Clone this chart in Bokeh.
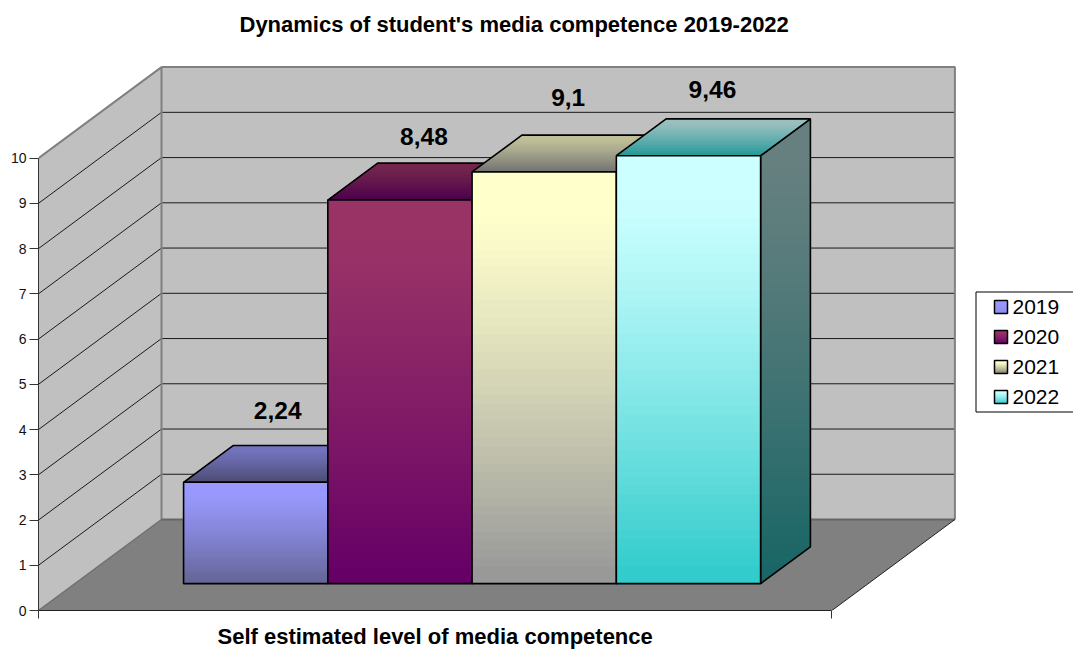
from bokeh.embed import file_html
from bokeh.models import ColumnDataSource, FixedTicker, Range1d, Title
from bokeh.plotting import figure
from bokeh.resources import INLINE

# Chart content
title_text = "Dynamics of student's media competence 2019-2022"
category_label = "Self estimated level of media competence"
years = ["2019", "2020", "2021", "2022"]
values = [2.24, 8.48, 9.1, 9.46]
value_ticks = [0, 1, 2, 3, 4, 5, 6, 7, 8, 9, 10]

# Face colours: light end and dark end of each bar's vertical gradient
light_colors = [(0x99, 0x99, 0xFF), (0x99, 0x33, 0x66), (0xFF, 0xFF, 0xCC), (0xCC, 0xFF, 0xFF)]
dark_colors = [(0x66, 0x66, 0x99), (0x66, 0x00, 0x66), (0x99, 0x99, 0x99), (0x33, 0xCC, 0xCC)]
swatch_dark_colors = [(0x8C, 0x8C, 0xEE), (0x66, 0x00, 0x66), (0x80, 0x80, 0x70), (0x33, 0xCC, 0xCC)]
top_shade, side_shade = 0.75, 0.5

# Page geometry in pixels
WIDTH, HEIGHT = 1073, 652
FRAME_LEFT, FRAME_TOP, FRAME_BOTTOM = 38, 44, 610
CATEGORY_PX, UNIT_PX = 793.4, 45.24
DEPTH_X_PX, DEPTH_Y_PX = 123.0, 91.0

# Oblique projection: depth 0 is the front of the floor, depth 1 the back wall
DX = DEPTH_X_PX / CATEGORY_PX
DY = DEPTH_Y_PX / UNIT_PX
BAR_DEPTH = (0.295, 0.70)
BAR_W = 1 / 5.5
GAP = 0.75 * BAR_W + 0.6 / CATEGORY_PX


def project(pos, val, depth):
    return pos + depth * DX, val + depth * DY


def px_x(px):
    return (px - FRAME_LEFT) / CATEGORY_PX


def px_y(py):
    return (FRAME_BOTTOM - py) / UNIT_PX


def shade(color, k):
    return tuple(c * k for c in color)


def to_hex(color):
    return "#%02x%02x%02x" % tuple(int(round(c)) for c in color)


def ease(f):
    """Gradient ramp: holds briefly at both ends and starts gently."""
    t = min(max((f - 0.08) / 0.88, 0.0), 1.0)
    return t ** 1.2


def clip_below(xs, ys, level):
    """Part of a polygon lying at or below a horizontal level."""
    out_x, out_y = [], []
    for i in range(len(xs)):
        x0, y0, x1, y1 = xs[i], ys[i], xs[(i + 1) % len(xs)], ys[(i + 1) % len(xs)]
        if y0 <= level:
            out_x.append(x0)
            out_y.append(y0)
        if (y0 <= level) != (y1 <= level):
            t = (level - y0) / (y1 - y0)
            out_x.append(x0 + t * (x1 - x0))
            out_y.append(level)
    return out_x, out_y


def gradient(p, xs, ys, c_top, c_bottom, bands=48):
    """Paint a polygon with a banded vertical gradient, darkest band last."""
    hi, lo = max(ys), min(ys)
    bx, by, colors = [], [], []
    for b in range(bands):
        f = b / bands
        cx, cy = clip_below(xs, ys, hi - f * (hi - lo))
        bx.append(cx)
        by.append(cy)
        k = ease(f)
        colors.append(to_hex(tuple(a + k * (d - a) for a, d in zip(c_top, c_bottom))))
    p.patches(bx, by, fill_color=colors, line_color=None)


p = figure(
    width=WIDTH, height=HEIGHT, output_backend="svg", toolbar_location=None,
    x_range=Range1d(0, (WIDTH - FRAME_LEFT) / CATEGORY_PX),
    y_range=Range1d(0, (FRAME_BOTTOM - FRAME_TOP) / UNIT_PX),
    min_border_left=FRAME_LEFT, min_border_right=0,
    min_border_top=FRAME_TOP, min_border_bottom=HEIGHT - FRAME_BOTTOM,
    background_fill_color="white", border_fill_color="white",
    outline_line_color=None,
)
p.grid.visible = False

# Value axis
ya = p.yaxis[0]
ya.ticker = FixedTicker(ticks=value_ticks)
ya.bounds = (0, 10)
ya.major_tick_out = 9
ya.major_tick_in = 0
ya.minor_tick_line_color = None
ya.major_label_standoff = 3
ya.major_label_text_font = "Liberation Sans"
ya.major_label_text_font_size = "14px"
ya.major_label_text_color = "#111111"
ya.axis_line_color = "#333333"
ya.major_tick_line_color = "#333333"

# Category axis: one category spanning the floor's front edge
xa = p.xaxis[0]
xa.ticker = FixedTicker(ticks=[0, 1])
xa.bounds = (0, 1)
xa.major_tick_out = 8
xa.major_tick_in = 0
xa.minor_tick_line_color = None
xa.major_label_overrides = {0: "", 1: ""}
xa.major_label_text_font_size = "1px"
xa.major_label_standoff = 0
xa.axis_line_color = "#222222"
xa.major_tick_line_color = "#333333"

# Chart title above, category caption below, both set in from the left
p.title.text = title_text
p.title.align = "left"
p.title.offset = 201
p.title.text_font = "Liberation Sans"
p.title.text_font_style = "bold"
p.title.text_font_size = "22px"
p.title.text_color = "black"
p.title.standoff = 16

p.add_layout(Title(text=category_label, align="left", offset=179,
                   text_font="Liberation Sans", text_font_style="bold",
                   text_font_size="22px", text_color="black", standoff=7), "below")

# Walls and floor
WALL = "#c0c0c0"
FLOOR = "#808080"
wx0, wy0 = project(0, 0, 0)
wx1, wy1 = project(0, 0, 1)
p.patch([wx0, wx1, wx1, wx0], [0, DY, 10 + DY, 10], fill_color=WALL, line_color=None)
p.patch([wx1, wx1 + 1, wx1 + 1, wx1], [DY, DY, 10 + DY, 10 + DY], fill_color=WALL, line_color=None)
p.patch([0, 1, 1 + DX, DX], [0, 0, DY, DY], fill_color=FLOOR, line_color=None)

# Gridlines across both walls
grid_levels = value_ticks[1:-1]
p.multi_line(
    [[0, DX, 1 + DX] for _ in grid_levels],
    [[v, v + DY, v + DY] for v in grid_levels],
    line_color="#1a1a1a", line_width=1,
)

# Wall and floor edges
p.line([0, DX, DX, DX], [10, 10 + DY, 10 + DY, DY], line_color="#808080", line_width=2)
p.line([DX, 1 + DX, 1 + DX], [10 + DY, 10 + DY, DY], line_color="#808080", line_width=2)
p.line([0, DX], [0, DY], line_color="#707070", line_width=1.5)
p.line([DX, 1 + DX], [DY, DY], line_color="#666666", line_width=2)
p.line([1, 1 + DX], [0, DY], line_color="#222222", line_width=1)

# Bars, left to right so each one overlaps its neighbour's side
d_front, d_back = BAR_DEPTH
BAR_LEFT0 = GAP
OUTLINE = 1.6
for i, v in enumerate(values):
    left = BAR_LEFT0 + i * BAR_W
    right = left + BAR_W
    fx0, base_f = project(left, 0, d_front)
    fx1, _ = project(right, 0, d_front)
    bx0, base_b = project(left, 0, d_back)
    bx1, _ = project(right, 0, d_back)
    top_f, top_b = base_f + v, base_b + v
    light, dark = light_colors[i], dark_colors[i]

    side_x, side_y = [fx1, bx1, bx1, fx1], [base_f, base_b, top_b, top_f]
    gradient(p, side_x, side_y, shade(light, side_shade), shade(dark, side_shade))
    p.patch(side_x, side_y, fill_color=None, line_color="black", line_width=OUTLINE)

    cap_x, cap_y = [fx0, fx1, bx1, bx0], [top_f, top_f, top_b, top_b]
    gradient(p, cap_x, cap_y, shade(light, top_shade), shade(dark, top_shade), bands=24)
    p.patch(cap_x, cap_y, fill_color=None, line_color="black", line_width=OUTLINE)

    face_x, face_y = [fx0, fx1, fx1, fx0], [base_f, base_f, top_f, top_f]
    gradient(p, face_x, face_y, light, dark)
    p.patch(face_x, face_y, fill_color=None, line_color="black", line_width=OUTLINE)

# Value labels above the bars
label_lift_px = [72, 64, 74, 66]
label_shift_px = [22, 24, 24, 24]
label_source = ColumnDataSource(data=dict(
    x=[project(BAR_LEFT0 + (i + 0.5) * BAR_W, 0, d_front)[0] + s / CATEGORY_PX
       for i, s in enumerate(label_shift_px)],
    y=[project(0, v, d_front)[1] + lift / UNIT_PX for v, lift in zip(values, label_lift_px)],
    text=[str(v).replace(".", ",") for v in values],
))
p.text(x="x", y="y", text="text", source=label_source, text_align="center",
       text_baseline="middle", text_font_size="24.5px", text_font_style="bold",
       text_color="black", text_font={"value": "Liberation Sans"})

# Legend box with gradient swatches
box_l, box_r, box_t, box_b = 975.5, 1072.5, 291.5, 411.5
p.line([px_x(box_r), px_x(box_l), px_x(box_l), px_x(box_r)],
       [px_y(box_t), px_y(box_t), px_y(box_b), px_y(box_b)],
       line_color="black", line_width=1)
for i, year in enumerate(years):
    cy = 306.5 + 30 * i
    sx = [px_x(994), px_x(1007), px_x(1007), px_x(994)]
    sy = [px_y(cy + 6.5), px_y(cy + 6.5), px_y(cy - 6.5), px_y(cy - 6.5)]
    gradient(p, sx, sy, light_colors[i], swatch_dark_colors[i], bands=13)
    p.patch(sx, sy, fill_color=None, line_color="black", line_width=1.5)
    p.text(x=[px_x(1012)], y=[px_y(cy)], text=[year], text_align="left",
           text_baseline="middle", text_font_size="21px", text_color="black",
           text_font={"value": "Liberation Sans"})

open("out.html", "w").write(file_html(p, INLINE))
